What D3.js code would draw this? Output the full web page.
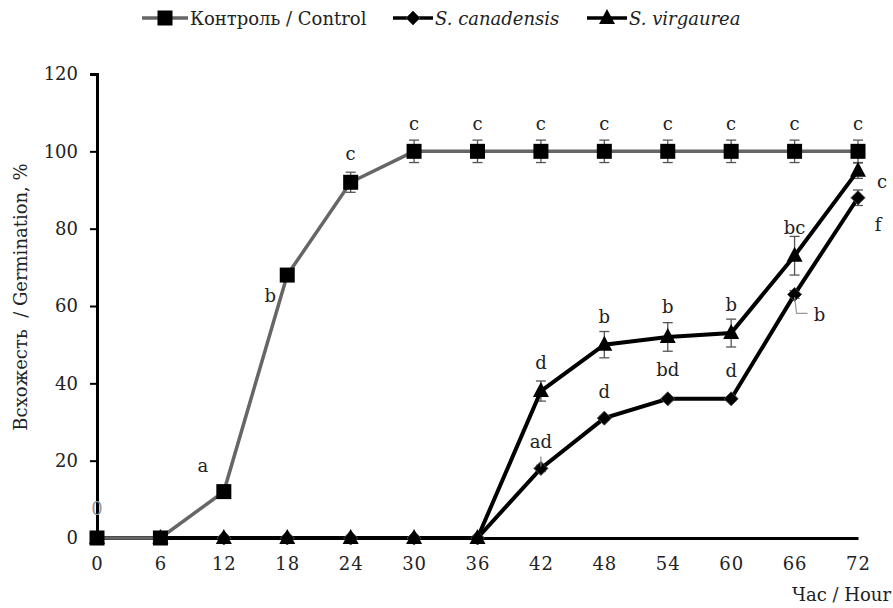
<!DOCTYPE html>
<html>
<head>
<meta charset="utf-8">
<script src="https://cdn.jsdelivr.net/npm/d3@7"></script>
<style>
body { margin: 0; background: #fff; }
</style>
</head>
<body>
<div id="chart"></div>
<script>
// hours on x axis
var hours = [0, 6, 12, 18, 24, 30, 36, 42, 48, 54, 60, 66, 72];
var yTicks = [0, 20, 40, 60, 80, 100, 120];

var control = [0, 0, 12, 68, 92, 100, 100, 100, 100, 100, 100, 100, 100];
var controlErr = [0, 0, 0, 0, 2.6, 2.9, 2.9, 2.9, 2.9, 2.9, 2.9, 2.9, 2.9];
var controlLbl = ["0", "", "a", "b", "c", "c", "c", "c", "c", "c", "c", "c", "c"];

var canad = [0, 0, 0, 0, 0, 0, 0, 18, 31, 36, 36, 63, 88];
var canadErr = [0, 0, 0, 0, 0, 0, 0, 0.8, 0.5, 0.5, 0.5, 1, 2];
var canadLbl = ["", "", "", "", "", "", "", "ad", "d", "bd", "d", "b", "f"];

var virg = [0, 0, 0, 0, 0, 0, 0, 38, 50, 52, 53, 73, 95];
var virgErr = [0, 0, 0, 0, 0, 0, 0, 2.6, 3.4, 3.7, 3.6, 5, 2];
var virgLbl = ["", "", "", "", "", "", "", "d", "b", "b", "b", "bc", "c"];

var FONT = "DejaVu Serif";

var width = 893, height = 608;
var svg = d3.select("#chart").append("svg")
  .attr("width", width)
  .attr("height", height)
  .attr("font-family", FONT);

var x = d3.scaleLinear().domain([0, 72]).range([97, 858]);
var y = d3.scaleLinear().domain([0, 120]).range([538, 74]);

// axes
var yAxis = svg.append("g")
  .attr("transform", "translate(97,0)")
  .call(d3.axisLeft(y).tickValues(yTicks).tickSize(7).tickPadding(12));
var xAxis = svg.append("g")
  .attr("transform", "translate(0,538)")
  .call(d3.axisBottom(x).tickValues(hours).tickSize(0).tickPadding(19));
[yAxis, xAxis].forEach(function(a) {
  a.attr("font-family", FONT).attr("font-size", 18);
  a.select(".domain").attr("stroke", "#000").attr("stroke-width", 3);
  a.selectAll(".tick line").attr("stroke", "#000").attr("stroke-width", 2);
  a.selectAll(".tick text").attr("fill", "#222");
});
xAxis.selectAll(".tick text").attr("letter-spacing", 1);

svg.append("text")
  .attr("transform", "translate(27,297) rotate(-90)")
  .attr("text-anchor", "middle")
  .attr("font-size", 18)
  .attr("fill", "#222")
  .style("white-space", "pre")
  .text("Всхожесть  / Germination, %");

svg.append("text")
  .attr("x", 891).attr("y", 601)
  .attr("text-anchor", "end")
  .attr("font-size", 18)
  .attr("fill", "#222")
  .text("Час / Hour");

var line = d3.line().x(function(d, i) { return x(hours[i]); }).y(function(d) { return y(d); });

function errorBars(vals, errs) {
  var g = svg.append("g");
  vals.forEach(function(v, i) {
    if (!errs[i]) return;
    var cx = x(hours[i]);
    var y1 = y(v + errs[i]), y2 = y(v - errs[i]);
    g.append("line").attr("x1", cx).attr("x2", cx).attr("y1", y1).attr("y2", y2)
      .attr("stroke", "#555").attr("stroke-width", 1.3);
    [y1, y2].forEach(function(yy) {
      g.append("line").attr("x1", cx - 5).attr("x2", cx + 5).attr("y1", yy).attr("y2", yy)
        .attr("stroke", "#555").attr("stroke-width", 1.3);
    });
  });
}

function square(g, cx, cy) {
  g.append("rect").attr("x", cx - 7.5).attr("y", cy - 7.5).attr("width", 15).attr("height", 15).attr("fill", "#000");
}
function diamond(g, cx, cy) {
  g.append("path").attr("d", "M" + cx + "," + (cy - 7) + "L" + (cx + 7) + "," + cy + "L" + cx + "," + (cy + 7) + "L" + (cx - 7) + "," + cy + "Z")
    .attr("fill", "#000").attr("stroke", "#444").attr("stroke-width", 1);
}
function triangle(g, cx, cy) {
  g.append("path").attr("d", "M" + cx + "," + (cy - 9) + "L" + (cx + 8) + "," + (cy + 6) + "L" + (cx - 8) + "," + (cy + 6) + "Z")
    .attr("fill", "#000");
}

// series: canadensis, virgaurea, control
errorBars(canad, canadErr);
errorBars(virg, virgErr);
svg.append("path").datum(canad).attr("d", line).attr("fill", "none").attr("stroke", "#000").attr("stroke-width", 4);
svg.append("path").datum(virg).attr("d", line).attr("fill", "none").attr("stroke", "#000").attr("stroke-width", 4);
errorBars(control, controlErr);
svg.append("path").datum(control).attr("d", line).attr("fill", "none").attr("stroke", "#666").attr("stroke-width", 3.5);

var mk = svg.append("g");
canad.forEach(function(v, i) { diamond(mk, x(hours[i]), y(v)); });
virg.forEach(function(v, i) { triangle(mk, x(hours[i]), y(v)); });
control.forEach(function(v, i) { square(mk, x(hours[i]), y(v)); });

// letter labels (offsets relative to the point, baseline)
function labels(vals, lbls, off) {
  vals.forEach(function(v, i) {
    if (!lbls[i]) return;
    var o = off(i);
    svg.append("text")
      .attr("x", x(hours[i]) + o[0])
      .attr("y", y(v) + o[1])
      .attr("text-anchor", "middle")
      .attr("font-size", 18)
      .attr("fill", o[2] || "#222")
      .text(lbls[i]);
  });
}

labels(control, controlLbl, function(i) {
  if (i === 0) return [0, -23, "#999"];
  if (i === 2) return [-21, -20];
  if (i === 3) return [-17, 27];
  if (i === 4) return [0, -22];
  return [0, -21];
});

labels(virg, virgLbl, function(i) {
  if (i === 12) return [24, 17];
  if (i === 9) return [0, -24];
  return [0, -22];
});

labels(canad, canadLbl, function(i) {
  if (i === 9) return [0, -23];
  if (i === 10) return [0, -22];
  if (i === 11) return [25, 27];
  if (i === 12) return [20, 33];
  return [0, -20];
});

// leader lines
svg.append("line").attr("x1", x(42)).attr("x2", x(42)).attr("y1", y(18) - 12).attr("y2", y(18) - 2)
  .attr("stroke", "#888").attr("stroke-width", 1.2);
svg.append("polyline")
  .attr("points", [[x(66), y(63) + 3], [x(66) + 2, y(63) + 19], [x(66) + 13, y(63) + 19]].join(" "))
  .attr("fill", "none").attr("stroke", "#999").attr("stroke-width", 1.2);

// legend
var leg = svg.append("g").attr("transform", "translate(0,18)");
var items = [
  { x0: 142, len: 46, text: "Контроль / Control", italic: false, color: "#666", mark: square },
  { x0: 393, len: 40, text: "S. canadensis", italic: true, color: "#000", mark: diamond },
  { x0: 587, len: 40, text: "S. virgaurea", italic: true, color: "#000", mark: triangle }
];
items.forEach(function(it) {
  leg.append("line").attr("x1", it.x0).attr("x2", it.x0 + it.len).attr("y1", 0).attr("y2", 0)
    .attr("stroke", it.color).attr("stroke-width", 3.5);
  it.mark(leg, it.x0 + it.len / 2, 0);
  leg.append("text").attr("x", it.x0 + it.len + 2).attr("y", 7)
    .attr("font-size", 18)
    .attr("fill", "#222")
    .attr("font-style", it.italic ? "italic" : "normal")
    .text(it.text);
});
</script>
</body>
</html>
